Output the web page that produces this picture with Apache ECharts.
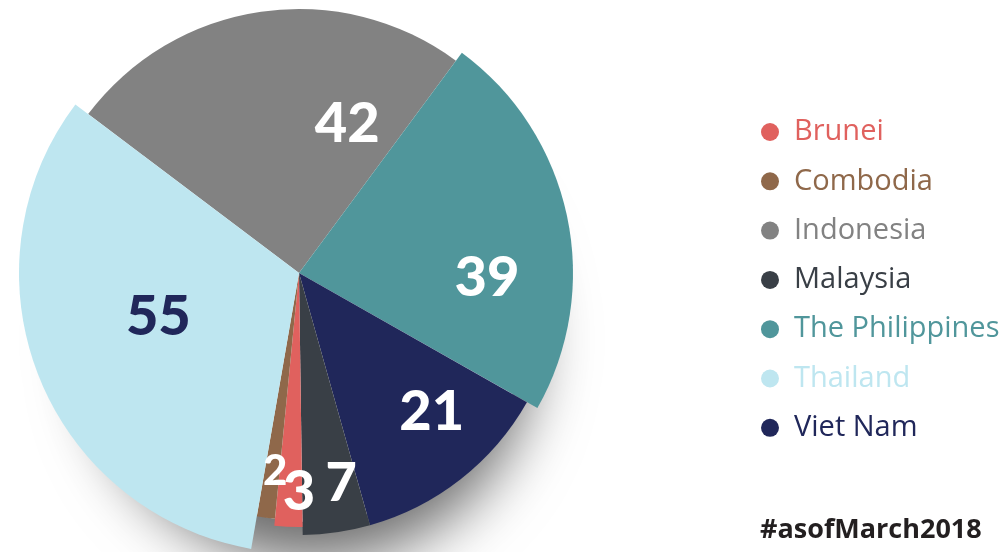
<!DOCTYPE html>
<html>
<head>
<meta charset="utf-8">
<script src="https://cdn.jsdelivr.net/npm/echarts@6/dist/echarts.min.js"></script>
<style>
html,body{margin:0;padding:0;background:#fff;}
#chart{width:1008px;height:552px;}
</style>
</head>
<body>
<div id="chart"></div>
<script>
// ---- data ----
const categories = ['Indonesia', 'The Philippines', 'Viet Nam', 'Malaysia', 'Brunei', 'Combodia', 'Thailand'];
const values = [42, 39, 21, 7, 3, 2, 55];
const legendOrder = ['Brunei', 'Combodia', 'Indonesia', 'Malaysia', 'The Philippines', 'Thailand', 'Viet Nam'];
const footnote = '#asofMarch2018';

// ---- styles ----
const colors = {
  'Brunei': '#E0615E', 'Combodia': '#8F684A', 'Indonesia': '#828282', 'Malaysia': '#393F46',
  'The Philippines': '#50969B', 'Thailand': '#BEE6F0', 'Viet Nam': '#20275A'
};
const sliceRadius = { 'Indonesia': 264, 'The Philippines': 274, 'Viet Nam': 262, 'Malaysia': 262, 'Brunei': 254, 'Combodia': 247, 'Thailand': 280 };
const labelRadius = { 'Indonesia': 156, 'The Philippines': 184, 'Viet Nam': 188, 'Malaysia': 214, 'Brunei': 216, 'Combodia': 197, 'Thailand': 145 };
const labelSize = { 'Indonesia': 56, 'The Philippines': 56, 'Viet Nam': 56, 'Malaysia': 54, 'Brunei': 56, 'Combodia': 42, 'Thailand': 56 };
const labelColor = { 'Thailand': '#20275A' };
// small nudges [dx, dy] of each number from its slice's label ring
const labelShift = { 'Indonesia': [71, 8], 'The Philippines': [5, 44], 'Viet Nam': [15, -11], 'Malaysia': [11, -4], 'Brunei': [9, 0], 'Combodia': [3, 0], 'Thailand': [-3, -10] };

const center = [299, 273];
const startAngle = 143;
const labelFont = 'Lato';

const series = [];
// soft shadow under the pie
series.push({
  type: 'pie', silent: true, animation: false, z: 0,
  center: [312, 300], radius: 222,
  label: { show: false }, labelLine: { show: false },
  data: [{ value: 1, name: '_shadow', itemStyle: { color: '#ffffff', shadowBlur: 60, shadowOffsetY: 40, shadowColor: 'rgba(0,0,0,0.58)' } }]
});
// one series per slice so each slice can have its own radius
categories.forEach(function (cat, i) {
  series.push({
    type: 'pie', silent: true, animation: false, z: 2,
    center: center, radius: sliceRadius[cat], startAngle: startAngle, clockwise: true,
    avoidLabelOverlap: false,
    label: { show: false }, labelLine: { show: false },
    emphasis: { disabled: true },
    data: categories.map(function (n, j) {
      return { name: n, value: values[j], itemStyle: { color: j === i ? colors[n] : 'rgba(0,0,0,0)' } };
    })
  });
});
// label rings
categories.forEach(function (cat, i) {
  const lr = labelRadius[cat];
  const s = labelShift[cat];
  const dx = s[0], dy = s[1];
  const lbl = {
    show: true, position: 'inside', overflow: 'none',
    fontFamily: labelFont, fontWeight: 900, fontSize: labelSize[cat],
    color: labelColor[cat] || '#ffffff',
    padding: [0, dx < 0 ? -2 * dx : 0, 0, dx > 0 ? 2 * dx : 0],
    formatter: function (p) {
      return (dy > 0 ? '\n' : '') + p.value + (dy < 0 ? '\n' : '');
    }
  };
  if (dy !== 0) lbl.lineHeight = 2 * Math.abs(dy);
  series.push({
    type: 'pie', silent: true, animation: false, z: 5,
    center: center, radius: [lr - 1, lr + 1], startAngle: startAngle, clockwise: true,
    avoidLabelOverlap: false, minShowLabelAngle: 0,
    labelLayout: { hideOverlap: false },
    labelLine: { show: false },
    emphasis: { disabled: true },
    data: categories.map(function (n, j) {
      return {
        name: n, value: values[j], itemStyle: { color: 'rgba(0,0,0,0)' },
        label: j === i ? lbl : { show: false }
      };
    })
  });
});

const option = {
  backgroundColor: '#ffffff',
  animation: false,
  title: {
    text: footnote, left: 760, top: 517, padding: 0,
    textStyle: { fontFamily: 'Open Sans', fontWeight: 'bold', fontSize: 27, color: '#231F20' }
  },
  legend: {
    orient: 'vertical', left: 756, top: 112,
    itemWidth: 38, itemHeight: 18, itemGap: 19.3, icon: 'circle',
    selectedMode: false,
    data: legendOrder.map(function (n) {
      return { name: n, icon: 'circle', itemStyle: { color: colors[n] }, textStyle: { color: colors[n] } };
    }),
    textStyle: { fontFamily: 'Open Sans', fontSize: 29, lineHeight: 30, padding: 0 }
  },
  series: series
};

const chart = echarts.init(document.getElementById('chart'), null, { renderer: 'canvas' });
chart.setOption(option);
</script>
</body>
</html>
